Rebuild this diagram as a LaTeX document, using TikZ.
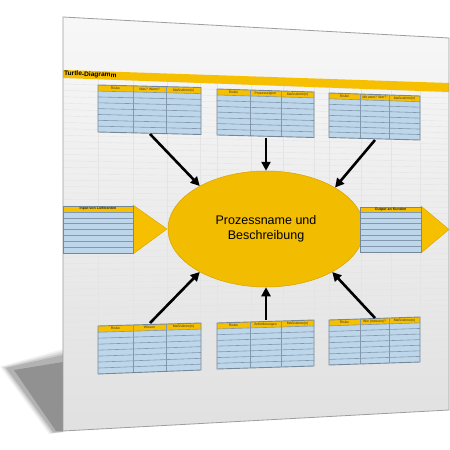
\documentclass[tikz,border=0pt]{standalone}
\usepackage{fontspec}
\setmainfont{Liberation Sans}
\usetikzlibrary{calc,shapes.geometric,arrows.meta}
\definecolor{tyellow}{HTML}{F6C000}
\definecolor{eyellow}{HTML}{F2BC00}
\definecolor{eborder}{HTML}{D6A200}
\definecolor{tblue}{HTML}{BED6EA}
\definecolor{tline}{HTML}{8398AE}
\definecolor{tborder}{HTML}{75889A}
\definecolor{gridc}{HTML}{E4E4E4}
\tikzset{
  rowline/.style={draw=tline,line width=0.6pt},
  colline/.style={draw=tline,line width=0.6pt},
  tblframe/.style={draw=tborder,line width=0.9pt},
  hdrlabel/.style={font=\fontsize{3.4}{3.8}\selectfont,inner sep=0pt,text=black!80},
  sidelabel/.style={font=\bfseries\fontsize{3.6}{4}\selectfont,inner sep=0pt,text=black!85},
  flow/.style={draw=black,line width=2.6pt,-{Triangle[length=9pt,width=9pt]}},
  gridline/.style={draw=gridc,line width=0.4pt},
}
% table with three columns, given corners
\newcommand\ttable[8]{%
  \coordinate (#1-tl) at (#2); \coordinate (#1-tr) at (#3);
  \coordinate (#1-bl) at (#4); \coordinate (#1-br) at (#5);
  \coordinate (#1-hl) at ($(#1-tl)!0.13!(#1-bl)$);
  \coordinate (#1-hr) at ($(#1-tr)!0.13!(#1-br)$);
  \fill[tblue] (#1-tl)--(#1-tr)--(#1-br)--(#1-bl)--cycle;
  \fill[tyellow] (#1-tl)--(#1-tr)--(#1-hr)--(#1-hl)--cycle;
  \foreach \k in {0,...,6}{%
    \pgfmathsetmacro\f{0.13+0.1243*\k}
    \draw[rowline] ($(#1-tl)!\f!(#1-bl)$) -- ($(#1-tr)!\f!(#1-br)$);}
  \foreach \c in {0.34,0.66}{%
    \draw[colline] ($(#1-tl)!\c!(#1-tr)$) -- ($(#1-bl)!\c!(#1-br)$);}
  \draw[tblframe] (#1-tl)--(#1-tr)--(#1-br)--(#1-bl)--cycle;
  \coordinate (#1-a1) at ($(#1-tl)!0.17!(#1-tr)$); \coordinate (#1-b1) at ($(#1-hl)!0.17!(#1-hr)$);
  \coordinate (#1-a2) at ($(#1-tl)!0.5!(#1-tr)$);  \coordinate (#1-b2) at ($(#1-hl)!0.5!(#1-hr)$);
  \coordinate (#1-a3) at ($(#1-tl)!0.83!(#1-tr)$); \coordinate (#1-b3) at ($(#1-hl)!0.83!(#1-hr)$);
  \node[hdrlabel] (#1-l1) at ($(#1-a1)!0.5!(#1-b1)$) {#6};
  \node[hdrlabel] (#1-l2) at ($(#1-a2)!0.5!(#1-b2)$) {#7};
  \node[hdrlabel] (#1-l3) at ($(#1-a3)!0.5!(#1-b3)$) {#8};
}
\begin{document}
\begin{tikzpicture}[x=1pt,y=-1pt]
\useasboundingbox (0,0) rectangle (450,450);
\fill[white] (0,0) rectangle (450,450);
% page corners
\coordinate (TL) at (63,17); \coordinate (TR) at (449,38);
\coordinate (BL) at (63,431); \coordinate (BR) at (449,410);
% shadow (soft layers)
\foreach \o/\op in {7/0.05,5/0.07,3/0.09,1/0.12}{%
  \fill[black,opacity=\op] (63,{356-\o}) -- ({7-\o},{368-\o*0.2}) -- ({54-\o*0.7},{432+\o*0.3}) -- (63,432) -- cycle;}
\fill[black,opacity=0.18] (63,362) -- (14,370) -- (56,431) -- (63,431) -- cycle;
% page
\shade[top color=white!97!black, bottom color=white!88!black] (TL)--(TR)--(BR)--(BL)--cycle;
% grid
\foreach \v in {0.146,0.1615,...,0.88}{%
  \draw[gridline] ($(TL)!\v!(BL)$) -- ($(TR)!\v!(BR)$);}
\foreach \x in {98,133,167,200,217,251,283,314,329,361,391,420}{%
  \pgfmathsetmacro\u{(\x-63)/386}
  \draw[gridline] ($ ($(TL)!\u!(TR)$)!0.14!($(BL)!\u!(BR)$) $) -- ($ ($(TL)!\u!(TR)$)!0.88!($(BL)!\u!(BR)$) $);}
% title bar
\fill[tyellow] (63,70) -- (449,83) -- (449,92) -- (63,78) -- cycle;
\node[font=\bfseries\fontsize{6.6}{7}\selectfont,anchor=west,inner sep=0pt,rotate=-1.9] (title) at (64,73.8) {Turtle-Diagramm};
\draw[black!38,line width=0.8pt] (TL)--(TR)--(BR)--(BL)--cycle;
% ellipse
\node[ellipse,fill=eyellow,draw=eborder,line width=0.5pt,minimum width=196pt,minimum height=116pt,inner sep=0pt,
      align=center,font=\fontsize{12.5}{15}\selectfont] (proc) at (266,229) {Prozessname und\\Beschreibung};
% top tables
\ttable{t1}{98,85}{201,87.5}{98,132}{201,134.5}{Risiko}{Was? Wann?}{Maßnahme(n)}
\ttable{t2}{217,89}{314,92}{217,135}{314,137.5}{Risiko}{Prozesseigner}{Maßnahme(n)}
\ttable{t3}{329,93}{420,96}{329,137.5}{420,140}{Risiko}{Mit wem? Wer?}{Maßnahme(n)}
% bottom tables
\ttable{b1}{98,326}{201,323}{98,374}{201,370}{Risiko}{Wissen}{Maßnahme(n)}
\ttable{b2}{217,323}{314,320}{217,369}{314,366}{Risiko}{Anforderungen}{Maßnahme(n)}
\ttable{b3}{329,320}{420,317}{329,365}{420,362}{Risiko}{Wie (messen)?}{Maßnahme(n)}
% left side table
\fill[tyellow,draw=eborder,line width=0.4pt] (133,205) -- (167,229) -- (133,254) -- cycle;
\fill[tblue] (63,206) rectangle (133,253);
\fill[tyellow] (63,206) rectangle (133,212);
\foreach \k in {0,...,6}{\draw[rowline] (63,{212+5.86*\k}) -- (133,{212+5.86*\k});}
\draw[tblframe] (63,206) rectangle (133,253);
\node[sidelabel] (inl) at (98,209) {Input von Lieferanten};
% right side table
\fill[tyellow,draw=eborder,line width=0.4pt] (421,206) -- (449,229.5) -- (421,253) -- cycle;
\fill[tblue] (360,207) rectangle (421,252);
\fill[tyellow] (360,207) rectangle (421,212.5);
\foreach \k in {0,...,6}{\draw[rowline] (360,{212.5+5.64*\k}) -- (421,{212.5+5.64*\k});}
\draw[tblframe] (360,207) rectangle (421,252);
\node[sidelabel] (outl) at (390.5,209.8) {Output an Kunden};
% arrows
\coordinate (s1) at (150,134); \coordinate (s2) at (266,138); \coordinate (s3) at (375,140);
\coordinate (s4) at (150,323); \coordinate (s5) at (266,320); \coordinate (s6) at (375,318);
\draw[flow] (s1) -- (proc.147);
\draw[flow] (s2) -- (proc.90);
\draw[flow] (s3) -- (proc.31);
\draw[flow] (s4) -- (proc.213);
\draw[flow] (s5) -- (proc.270);
\draw[flow] (s6) -- (proc.327);
\end{tikzpicture}
\end{document}
